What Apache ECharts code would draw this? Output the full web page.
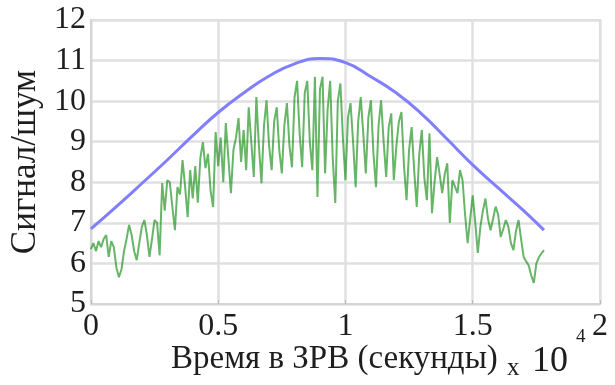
<!DOCTYPE html>
<html>
<head>
<meta charset="utf-8">
<script src="https://cdn.jsdelivr.net/npm/echarts@6/dist/echarts.min.js"></script>
<style>
  html, body { margin: 0; padding: 0; background: #fff; }
  #chart { width: 615px; height: 385px; }
</style>
</head>
<body>
<div id="chart"></div>
<script>
// Time in the engagement zone, seconds (noisy SNR sampled every 100 s)
const noisyTime = Array.from({ length: 179 }, (_, i) => i * 100);
const noisySnr = [
  6.35, 6.5, 6.3, 6.55, 6.4, 6.6, 6.7, 6.16, 6.55, 6.4,
  5.9, 5.66, 5.85, 6.3, 6.6, 6.95, 6.7, 6.3, 6.08, 6.5,
  6.9, 7.07, 6.7, 6.16, 6.6, 7.07, 7.0, 6.2, 7.98, 7.3,
  8.05, 8.0, 7.4, 6.82, 7.88, 7.7, 8.55, 7.9, 7.14, 8.3,
  7.6, 8.4, 7.5, 8.6, 8.99, 8.35, 8.7, 7.8, 7.39, 9.24,
  8.4, 9.1, 8.0, 9.46, 8.6, 7.73, 8.8, 9.1, 9.58, 8.5,
  9.29, 8.3, 9.85, 9.0, 8.13, 10.1, 8.9, 7.98, 9.4, 10.02,
  8.9, 8.3, 9.5, 9.85, 8.8, 8.22, 9.4, 9.95, 8.9, 8.37,
  10.1, 10.5, 9.2, 8.37, 10.2, 10.5, 9.0, 8.3, 10.6, 7.64,
  10.3, 10.6, 8.22, 9.8, 10.5, 8.6, 7.49, 10.0, 10.44, 9.1,
  8.05, 9.6, 9.95, 9.0, 7.88, 9.5, 10.1, 9.2, 8.22, 9.6,
  10.02, 8.7, 7.88, 9.4, 10.02, 9.0, 8.13, 9.36, 9.7, 8.05,
  8.9, 9.5, 9.73, 8.4, 7.56, 8.8, 9.36, 8.3, 7.39, 8.7,
  9.29, 8.1, 7.56, 9.21, 7.24, 8.0, 8.62, 8.2, 7.73, 8.2,
  8.47, 7.0, 8.05, 7.9, 7.73, 8.3, 8.05, 7.2, 6.5, 7.1,
  7.68, 7.0, 6.26, 6.9, 7.3, 7.6, 7.1, 6.82, 7.1, 7.4,
  7.2, 6.65, 6.85, 7.07, 6.9, 6.5, 6.33, 6.8, 7.07, 6.6,
  6.16, 6.05, 5.95, 5.7, 5.52, 6.0, 6.15, 6.25, 6.33
];

// Smooth upper (ideal) SNR curve
const idealTime = [0, 1000, 2000, 3000, 4000, 5000, 6000, 7000, 8000, 9000,
  10000, 11000, 12000, 13000, 14000, 15000, 16000, 17000, 17800];
const idealSnr = [6.85, 7.4, 7.97, 8.55, 9.15, 9.72, 10.2, 10.62, 10.92, 11.05,
  10.95, 10.6, 10.2, 9.68, 9.06, 8.43, 7.86, 7.3, 6.82];

const xTicks = [0, 5000, 10000, 15000, 20000];
const xTickLabels = ['0', '0.5', '1', '1.5', '2'];
const yTicks = [5, 6, 7, 8, 9, 10, 11, 12];

const serif = 'Liberation Serif';
const textColor = '#1e1e1e';

const chart = echarts.init(document.getElementById('chart'), null, { renderer: 'canvas' });

chart.setOption({
  animation: false,
  backgroundColor: '#fff',
  grid: { left: 88, right: 15, top: 20, bottom: 81, show: true, borderColor: '#d6d6d6', borderWidth: 2 },
  xAxis: {
    type: 'value',
    min: xTicks[0],
    max: xTicks[xTicks.length - 1],
    interval: 5000,
    axisLine: { show: true, lineStyle: { color: '#d6d6d6', width: 2 } },
    axisTick: { show: true, inside: true, length: 4, lineStyle: { color: '#bbb' } },
    splitLine: { show: true, lineStyle: { color: '#e0e0e0', width: 2.5 } },
    axisLabel: {
      fontFamily: serif, fontSize: 32, color: textColor, margin: 7,
      formatter: v => xTickLabels[xTicks.indexOf(v)] ?? ''
    }
  },
  yAxis: {
    type: 'value',
    min: yTicks[0],
    max: yTicks[yTicks.length - 1],
    interval: 1,
    axisLine: { show: true, lineStyle: { color: '#d6d6d6', width: 2 } },
    axisTick: { show: false },
    splitLine: { show: true, lineStyle: { color: '#e0e0e0', width: 2.5 } },
    axisLabel: { fontFamily: serif, fontSize: 32, color: textColor, margin: 5 },
    name: 'Сигнал/шум',
    nameLocation: 'middle',
    nameRotate: 90,
    nameGap: 47,
    nameTextStyle: { fontFamily: serif, fontSize: 35, color: textColor }
  },
  series: [
    {
      type: 'line',
      data: noisyTime.map((t, i) => [t, noisySnr[i]]),
      showSymbol: false,
      lineStyle: { color: 'rgba(10,135,10,0.62)', width: 2 },
      z: 2
    },
    {
      type: 'line',
      data: idealTime.map((t, i) => [t, idealSnr[i]]),
      smooth: true,
      showSymbol: false,
      lineStyle: { color: '#7f7fff', width: 3 },
      z: 3
    }
  ],
  graphic: [
    {
      type: 'text',
      x: 171, y: 343,
      style: { text: 'Время в ЗРВ (секунды)', font: '33px "Liberation Serif"', fill: textColor, verticalAlign: 'top' }
    },
    {
      type: 'text',
      x: 507, y: 356,
      style: { text: 'x', font: '25px "Liberation Serif"', fill: textColor, verticalAlign: 'top' }
    },
    {
      type: 'text',
      x: 532, y: 344,
      style: { text: '10', font: '36px "Liberation Serif"', fill: textColor, verticalAlign: 'top' }
    },
    {
      type: 'text',
      x: 576, y: 328,
      style: { text: '4', font: '19px "Liberation Serif"', fill: textColor, verticalAlign: 'top' }
    }
  ]
});
</script>
</body>
</html>
